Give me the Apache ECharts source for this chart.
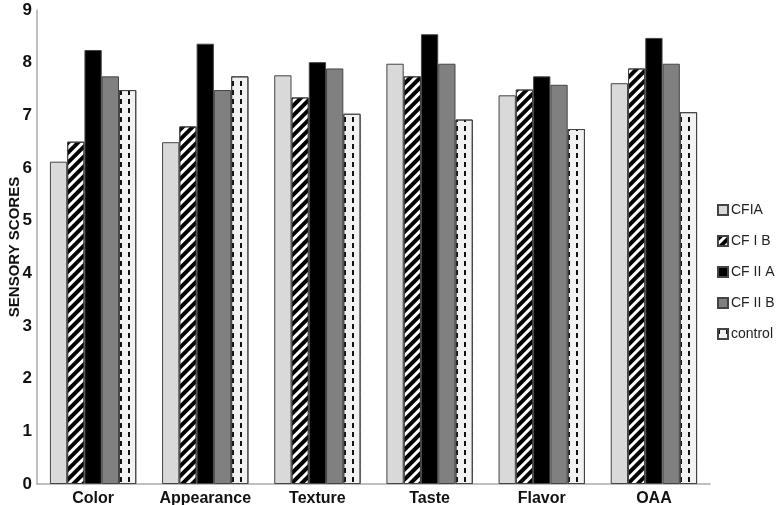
<!DOCTYPE html>
<html>
<head>
<meta charset="utf-8">
<script src="https://cdn.jsdelivr.net/npm/echarts@6/dist/echarts.min.js"></script>
<style>
  html, body { margin: 0; padding: 0; background: #fff; }
  #main { width: 777px; height: 505px; }
</style>
</head>
<body>
<div id="main"></div>
<script>
// sensory scores per attribute
var categories = ['Color', 'Appearance', 'Texture', 'Taste', 'Flavor', 'OAA'];
var seriesNames = ['CFIA', 'CF I B', 'CF II A', 'CF II B', 'control'];
var cfIA   = [6.12, 6.49, 7.76, 7.98, 7.38, 7.61];
var cfIB   = [6.50, 6.79, 7.34, 7.74, 7.49, 7.89];
var cfIIA  = [8.24, 8.36, 8.01, 8.54, 7.74, 8.47];
var cfIIB  = [7.74, 7.48, 7.89, 7.98, 7.58, 7.98];
var control = [7.48, 7.74, 7.03, 6.92, 6.74, 7.06];
var yTicks = [0, 1, 2, 3, 4, 5, 6, 7, 8, 9];

var chart = echarts.init(document.getElementById('main'), null, {renderer: 'canvas'});

function bar(name, data, color, decal) {
  var s = {
    name: name,
    type: 'bar',
    data: data,
    barGap: '0%',
    barCategoryGap: '23%',
    itemStyle: {
      color: color,
      borderColor: '#444',
      borderWidth: 1
    }
  };
  if (decal) s.itemStyle.decal = decal;
  return s;
}

var option = {
  animation: false,
  backgroundColor: '#fff',
  textStyle: { fontFamily: 'Liberation Sans' },
  grid: {
    left: 37,
    right: 67,
    top: 10,
    bottom: 21,
    containLabel: false,
    outerBoundsMode: 'none'
  },
  legend: {
    orient: 'vertical',
    left: 712,
    top: 198,
    itemWidth: 10,
    itemHeight: 10,
    itemGap: 17,
    icon: 'rect',
    data: seriesNames,
    textStyle: { fontSize: 14, color: '#222', padding: [0, 0, 0, -2] }
  },
  xAxis: {
    type: 'category',
    data: categories,
    axisLine: { lineStyle: { color: '#aaa', width: 1.5 } },
    axisTick: { show: false },
    axisLabel: { interval: 0, color: '#111', fontSize: 16, fontWeight: 'bold', margin: 7 }
  },
  yAxis: {
    type: 'value',
    min: 0,
    max: 9,
    interval: 1,
    name: 'SENSORY SCORES',
    nameLocation: 'middle',
    nameGap: 15,
    nameMoveOverlap: false,
    nameTextStyle: { color: '#111', fontSize: 15, fontWeight: 'bold' },
    axisLine: { show: true, lineStyle: { color: '#aaa', width: 1.5 } },
    axisTick: { show: false },
    splitLine: { show: false },
    axisLabel: {
      color: '#111', fontSize: 17, fontWeight: 'bold', margin: 5,
      formatter: function (v) { return yTicks.indexOf(v) >= 0 ? String(v) : ''; }
    }
  },
  series: [
    bar('CFIA', cfIA, '#d9d9d9'),
    bar('CF I B', cfIB, '#ffffff', {
      color: '#000',
      symbol: 'rect',
      symbolSize: 1,
      dashArrayX: [1, 0],
      dashArrayY: [4, 3],
      rotation: -Math.PI / 4
    }),
    bar('CF II A', cfIIA, '#000000'),
    bar('CF II B', cfIIB, '#808080'),
    bar('control', control, '#f2f2f2', {
      color: '#111',
      symbol: 'rect',
      symbolSize: 1,
      dashArrayX: [2, 6],
      dashArrayY: [5, 4],
      rotation: 0
    })
  ]
};

chart.setOption(option);
</script>
</body>
</html>
